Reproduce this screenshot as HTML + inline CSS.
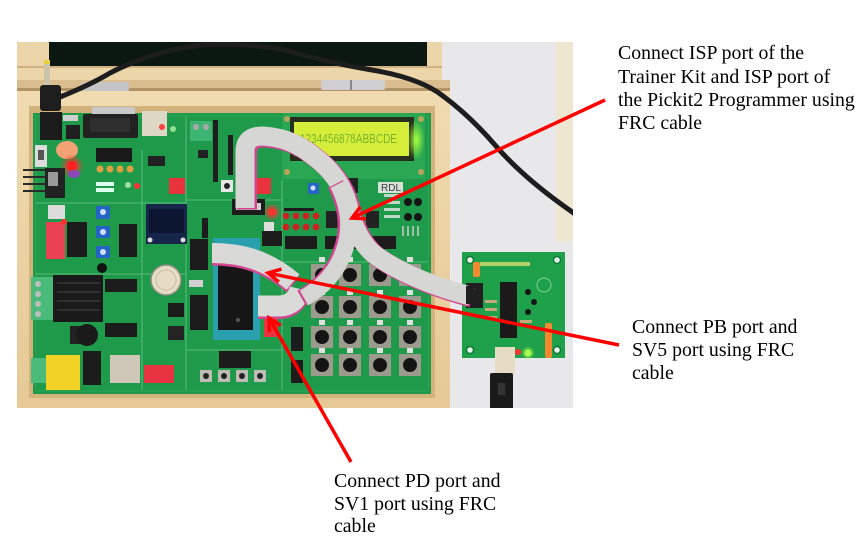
<!DOCTYPE html>
<html><head><meta charset="utf-8">
<style>
html,body{margin:0;padding:0;background:#fff;}
body{width:863px;height:552px;position:relative;overflow:hidden;font-family:"Liberation Serif","Times New Roman",serif;}
.t{position:absolute;font-size:19.8px;line-height:23.3px;color:#000;white-space:nowrap;}
svg{position:absolute;left:0;top:0;}
</style></head><body>
<svg width="863" height="552" viewBox="0 0 863 552">
<defs>
 <clipPath id="c"><rect x="17" y="42" width="556" height="366"/></clipPath>
 <radialGradient id="rg"><stop offset="0" stop-color="#ff2a2a"/><stop offset="0.5" stop-color="#ff3030" stop-opacity="0.6"/><stop offset="1" stop-color="#ff3030" stop-opacity="0"/></radialGradient>
 <radialGradient id="gg"><stop offset="0" stop-color="#a8ff40"/><stop offset="1" stop-color="#a8ff40" stop-opacity="0"/></radialGradient>
 <linearGradient id="wood" x1="0" y1="0" x2="0" y2="1"><stop offset="0" stop-color="#f0dbb0"/><stop offset="1" stop-color="#e6c996"/></linearGradient>
</defs>
<g clip-path="url(#c)">
 <rect x="17" y="42" width="556" height="366" fill="#e8e8eb"/>
 <rect x="556" y="42" width="17" height="200" fill="#efe6d2"/>
 <!-- lid -->
 <rect x="17" y="42" width="425" height="40" fill="#ecd6a9"/>
 <rect x="49" y="42" width="378" height="25" fill="#0b1811"/>
 <rect x="17" y="66" width="425" height="2" fill="#d2b283"/>
 <rect x="17" y="80" width="433" height="11" fill="#d9bd8e"/>
 <rect x="17" y="88" width="433" height="3" fill="#b39366"/>
 <rect x="81" y="82" width="48" height="9" rx="2" fill="#c4c4c6"/>
 <rect x="321" y="80" width="64" height="10" rx="2" fill="#cfcfd2"/>
 <rect x="350" y="80" width="2" height="10" fill="#888"/>
 <!-- box -->
 <rect x="17" y="91" width="433" height="317" fill="url(#wood)"/>
 <rect x="29" y="106" width="406" height="292" fill="#d3b27c"/>
 <!-- PCB -->
 <rect x="33" y="113" width="398" height="281" fill="#1f9a4b"/>
 <rect x="36" y="116" width="392" height="275" fill="none" stroke="#2aa556" stroke-width="1"/>
 <g stroke="#86d39c" stroke-width="0.8" opacity="0.75" fill="none">
  <path d="M36 203 H186"/><path d="M36 274 H186"/><path d="M186 350 H282"/>
  <path d="M142 150 V390"/><path d="M186 116 V390"/><path d="M282 180 V390"/>
  <path d="M282 262 H428"/><path d="M186 200 H282"/>
 </g>
 <!-- plug -->
 <rect x="44" y="62" width="6" height="24" fill="#cbc3aa"/>
 <rect x="44" y="60" width="6" height="4" fill="#e8d040"/>
 <rect x="40" y="85" width="21" height="26" rx="3" fill="#1e1e1e"/>
 <rect x="40" y="112" width="22" height="28" fill="#1b1b1b"/>
 <!-- left top area -->
 <rect x="63" y="115" width="15" height="6" fill="#cfcfcf"/>
 <rect x="66" y="125" width="14" height="14" fill="#202020"/>
 <rect x="35" y="145" width="12" height="22" fill="#dcdcdc"/>
 <rect x="38" y="150" width="6" height="10" fill="#555"/>
 <ellipse cx="67" cy="150" rx="11" ry="9" fill="#f2a274"/>
 <circle cx="72" cy="166" r="12" fill="url(#rg)"/>
 <circle cx="72" cy="166" r="5" fill="#ff2020"/>
 <ellipse cx="74" cy="174" rx="6" ry="4" fill="#8a48b8"/>
 <g stroke="#2a2a2a" stroke-width="2"><path d="M23 170 H46"/><path d="M23 177 H46"/><path d="M23 184 H46"/><path d="M23 191 H46"/></g>
 <rect x="45" y="168" width="20" height="30" fill="#222"/>
 <rect x="48" y="172" width="10" height="14" fill="#9a9a9a"/>
 <!-- DB9 & USB -->
 <rect x="92" y="107" width="43" height="10" fill="#c9c9c9"/>
 <rect x="83" y="114" width="55" height="24" rx="2" fill="#222"/>
 <rect x="90" y="118" width="40" height="14" fill="#2f2f2f"/>
 <rect x="142" y="111" width="25" height="25" fill="#ddd7c6"/>
 <rect x="96" y="148" width="36" height="14" fill="#1a1a1a"/>
 <g fill="#e0a040"><circle cx="100" cy="169" r="3.5"/><circle cx="110" cy="169" r="3.5"/><circle cx="120" cy="169" r="3.5"/><circle cx="130" cy="169" r="3.5"/></g>
 <rect x="148" y="156" width="17" height="10" fill="#222"/>
 <circle cx="162" cy="127" r="3" fill="#ff4040"/><circle cx="173" cy="129" r="3" fill="#8fe08f"/>
 <circle cx="128" cy="185" r="3" fill="#9ee09e"/><circle cx="137" cy="186" r="3" fill="#ff3030"/>
 <rect x="96" y="182" width="18" height="4" fill="#dfe"/><rect x="96" y="188" width="18" height="4" fill="#dfe"/>
 <rect x="190" y="121" width="22" height="20" fill="#3db572"/>
 <circle cx="196" cy="127" r="3" fill="#aaa"/><circle cx="206" cy="127" r="3" fill="#aaa"/>
 <rect x="213" y="120" width="5" height="62" fill="#1e1e1e"/>
 <rect x="228" y="135" width="5" height="40" fill="#1e1e1e"/>
 <rect x="198" y="150" width="10" height="8" fill="#222"/>
 <!-- red DIPs -->
 <rect x="169" y="178" width="16" height="16" fill="#e8333c"/>
 <rect x="257" y="178" width="14" height="16" fill="#e8333c"/>
 <rect x="46" y="222" width="19" height="37" fill="#ea4252"/>
 <rect x="144" y="365" width="30" height="18" fill="#e83340"/>
 <rect x="264" y="317" width="14" height="20" fill="#e83340"/>
 <!-- buttons / pots -->
 <rect x="221" y="180" width="12" height="12" fill="#e6e6e6"/><circle cx="227" cy="186" r="3" fill="#222"/>
 <rect x="48" y="205" width="17" height="14" fill="#dcdcdc"/>
 <circle cx="64" cy="222" r="3" fill="#ff3030"/>
 <g fill="#2563c4"><rect x="96" y="206" width="14" height="13"/><rect x="96" y="226" width="14" height="12"/><rect x="96" y="246" width="14" height="12"/><rect x="308" y="183" width="11" height="11"/></g>
 <g fill="#cfe0ff"><circle cx="103" cy="212" r="3"/><circle cx="103" cy="232" r="3"/><circle cx="103" cy="252" r="3"/><circle cx="313" cy="188" r="2.5"/></g>
 <circle cx="102" cy="268" r="5" fill="#111"/>
 <!-- OLED -->
 <rect x="146" y="204" width="41" height="40" fill="#16264a"/>
 <rect x="149" y="209" width="35" height="24" fill="#0d1630"/>
 <circle cx="150" cy="240" r="2.5" fill="#ddd"/><circle cx="183" cy="240" r="2.5" fill="#ddd"/>
 <!-- headers -->
 <g fill="#1c1c1c">
  <rect x="67" y="222" width="20" height="35"/><rect x="119" y="224" width="18" height="33"/>
  <rect x="190" y="239" width="18" height="31"/><rect x="190" y="295" width="18" height="35"/>
  <rect x="105" y="279" width="32" height="13"/><rect x="105" y="323" width="32" height="14"/>
  <rect x="83" y="351" width="18" height="34"/><rect x="219" y="351" width="32" height="17"/>
  <rect x="285" y="236" width="32" height="13"/><rect x="325" y="236" width="35" height="13"/>
  <rect x="371" y="236" width="25" height="13"/><rect x="291" y="327" width="12" height="24"/>
  <rect x="291" y="360" width="12" height="23"/><rect x="202" y="218" width="6" height="20"/>
  <rect x="284" y="208" width="30" height="3"/>
 </g>
 <!-- heatsink / terminals / relay -->
 <rect x="53" y="275" width="50" height="47" fill="#1a1a1a"/>
 <g stroke="#383838" stroke-width="1.5"><path d="M57 283 H100"/><path d="M57 292 H100"/><path d="M57 301 H100"/><path d="M57 310 H100"/></g>
 <rect x="31" y="277" width="22" height="43" fill="#4bbb7b"/>
 <g fill="#bdbdbd"><circle cx="38" cy="284" r="3"/><circle cx="38" cy="294" r="3"/><circle cx="38" cy="304" r="3"/><circle cx="38" cy="314" r="3"/></g>
 <rect x="70" y="326" width="12" height="18" fill="#222"/>
 <circle cx="87" cy="335" r="11" fill="#1a1a1a"/>
 <rect x="31" y="358" width="15" height="25" fill="#4bbb7b"/>
 <rect x="46" y="355" width="34" height="35" fill="#f2d224"/>
 <rect x="110" y="355" width="30" height="28" fill="#cfc8b8"/>
 <circle cx="166" cy="280" r="15" fill="#e6dcc4" stroke="#8b8b80" stroke-width="1.5"/>
 <circle cx="166" cy="280" r="10" fill="none" stroke="#c8bea6" stroke-width="1"/>
 <rect x="168" y="303" width="16" height="14" fill="#1c1c1c"/>
 <rect x="168" y="326" width="16" height="14" fill="#242424"/>
 <rect x="189" y="280" width="14" height="7" fill="#d0d0d0"/>
 <!-- ZIF -->
 <rect x="213" y="238" width="47" height="102" fill="#2aa0ae"/>
 <rect x="218" y="262" width="35" height="68" fill="#161616"/>
 <circle cx="238" cy="320" r="2" fill="#555"/>
 <!-- LCD module -->
 <rect x="282" y="113" width="143" height="66" fill="#2aa752"/>
 <rect x="290" y="117" width="124" height="44" fill="#26301c"/>
 <rect x="294" y="122" width="115" height="34" fill="#d6ee3a"/>
 <rect x="407" y="120" width="18" height="40" fill="url(#gg)"/>
 <text x="300" y="143" font-family="'Liberation Sans',sans-serif" font-size="13" fill="#7ab52c" textLength="97" lengthAdjust="spacingAndGlyphs">1234456878ABBCDE</text>
 <g fill="#b9a45e"><circle cx="287" cy="119" r="3"/><circle cx="421" cy="119" r="3"/><circle cx="287" cy="172" r="3"/><circle cx="421" cy="172" r="3"/></g>
 <rect x="330" y="178" width="28" height="15" fill="#222"/>
 <rect x="378" y="182" width="25" height="11" fill="#d9e2d9"/>
 <text x="381" y="191" font-family="'Liberation Sans',sans-serif" font-size="10" fill="#3a3a3a">RDL</text>
 <!-- LEDs, 7seg -->
 <circle cx="272" cy="212" r="9" fill="url(#rg)"/><circle cx="272" cy="212" r="3.5" fill="#ff3030"/>
 <rect x="264" y="222" width="10" height="9" fill="#ddd"/>
 <g fill="#cf2020"><circle cx="286" cy="216" r="3.3"/><circle cx="296" cy="216" r="3.3"/><circle cx="306" cy="216" r="3.3"/><circle cx="316" cy="216" r="3.3"/>
 <circle cx="286" cy="227" r="3.3"/><circle cx="296" cy="227" r="3.3"/><circle cx="306" cy="227" r="3.3"/><circle cx="316" cy="227" r="3.3"/></g>
 <rect x="326" y="211" width="15" height="17" fill="#222"/>
 <rect x="366" y="211" width="13" height="17" fill="#222"/>
 <g fill="#151515"><circle cx="408" cy="202" r="4"/><circle cx="418" cy="202" r="4"/><circle cx="408" cy="217" r="4"/><circle cx="418" cy="217" r="4"/></g>
 <g stroke="#cfcfcf" stroke-width="1.5"><path d="M403 226 V236"/><path d="M408 226 V236"/><path d="M413 226 V236"/><path d="M418 226 V236"/></g>
 <g fill="#e8e8e8" opacity="0.8"><rect x="384" y="194" width="16" height="3"/><rect x="384" y="201" width="16" height="3"/><rect x="384" y="208" width="16" height="3"/><rect x="384" y="215" width="16" height="3"/></g>
 <!-- keypad -->
 <g fill="#9c9a8c">
  <rect x="311" y="264" width="22" height="22"/><rect x="339" y="264" width="22" height="22"/><rect x="369" y="264" width="22" height="22"/><rect x="399" y="264" width="22" height="22"/>
  <rect x="311" y="296" width="22" height="22"/><rect x="339" y="296" width="22" height="22"/><rect x="369" y="296" width="22" height="22"/><rect x="399" y="296" width="22" height="22"/>
  <rect x="311" y="326" width="22" height="22"/><rect x="339" y="326" width="22" height="22"/><rect x="369" y="326" width="22" height="22"/><rect x="399" y="326" width="22" height="22"/>
  <rect x="311" y="354" width="22" height="22"/><rect x="339" y="354" width="22" height="22"/><rect x="369" y="354" width="22" height="22"/><rect x="399" y="354" width="22" height="22"/>
 </g>
 <g fill="#141414">
  <circle cx="322" cy="275" r="7"/><circle cx="350" cy="275" r="7"/><circle cx="380" cy="275" r="7"/><circle cx="410" cy="275" r="7"/>
  <circle cx="322" cy="307" r="7"/><circle cx="350" cy="307" r="7"/><circle cx="380" cy="307" r="7"/><circle cx="410" cy="307" r="7"/>
  <circle cx="322" cy="337" r="7"/><circle cx="350" cy="337" r="7"/><circle cx="380" cy="337" r="7"/><circle cx="410" cy="337" r="7"/>
  <circle cx="322" cy="365" r="7"/><circle cx="350" cy="365" r="7"/><circle cx="380" cy="365" r="7"/><circle cx="410" cy="365" r="7"/>
 </g>
 <g fill="#e0e0e0"><rect x="319" y="257" width="6" height="5"/><rect x="347" y="257" width="6" height="5"/><rect x="377" y="257" width="6" height="5"/><rect x="407" y="257" width="6" height="5"/>
 <rect x="319" y="290" width="6" height="5"/><rect x="347" y="290" width="6" height="5"/><rect x="377" y="290" width="6" height="5"/><rect x="407" y="290" width="6" height="5"/>
 <rect x="319" y="320" width="6" height="5"/><rect x="347" y="320" width="6" height="5"/><rect x="377" y="320" width="6" height="5"/><rect x="407" y="320" width="6" height="5"/>
 <rect x="319" y="348" width="6" height="5"/><rect x="347" y="348" width="6" height="5"/><rect x="377" y="348" width="6" height="5"/><rect x="407" y="348" width="6" height="5"/></g>
 <!-- bottom push buttons -->
 <g fill="#bdbdb5"><rect x="200" y="370" width="12" height="12"/><rect x="218" y="370" width="12" height="12"/><rect x="236" y="370" width="12" height="12"/><rect x="254" y="370" width="12" height="12"/></g>
 <g fill="#222"><circle cx="206" cy="376" r="3"/><circle cx="224" cy="376" r="3"/><circle cx="242" cy="376" r="3"/><circle cx="260" cy="376" r="3"/></g>
 <!-- connectors under cables -->
 <rect x="232" y="199" width="33" height="16" fill="#1c1c1c"/>
 <rect x="236" y="203" width="25" height="7" fill="#cfcfcf"/>
 <rect x="262" y="231" width="20" height="15" fill="#1c1c1c"/>
 <!-- black cable -->
 <path d="M60 97 Q90 85 110 73 Q150 52 200 45 Q260 42 300 54 Q335 64 372 70 Q420 78 443 96 Q470 116 495 145 Q525 180 578 216" fill="none" stroke="#1d1d1d" stroke-width="5" stroke-linecap="round"/>
 <!-- right programmer board -->
 <rect x="462" y="252" width="103" height="106" fill="#1fa04a"/>
 <g fill="#e8f4ea" stroke="#0d7a35" stroke-width="1.5"><circle cx="470" cy="260" r="3.5"/><circle cx="557" cy="260" r="3.5"/><circle cx="470" cy="350" r="3.5"/><circle cx="557" cy="350" r="3.5"/></g>
 <circle cx="544" cy="285" r="7" fill="none" stroke="#7fd49a" stroke-width="1"/>
 <rect x="500" y="282" width="17" height="56" fill="#1a1a1a"/>
 <rect x="466" y="283" width="17" height="25" fill="#202020"/>
 <rect x="473" y="262" width="7" height="15" rx="2" fill="#f28a30"/>
 <rect x="545" y="323" width="7" height="35" rx="2" fill="#f28a30"/>
 <g fill="#161616"><circle cx="528" cy="292" r="3"/><circle cx="534" cy="302" r="3"/><circle cx="528" cy="312" r="3"/></g>
 <g fill="#c7a878"><rect x="485" y="300" width="12" height="3"/><rect x="485" y="308" width="12" height="3"/><rect x="485" y="316" width="12" height="3"/><rect x="520" y="320" width="12" height="3"/></g>
 <rect x="480" y="262" width="50" height="4" fill="#f0e070" opacity="0.7"/>
 <circle cx="518" cy="352" r="3" fill="#ff3030"/>
 <circle cx="528" cy="353" r="7" fill="url(#gg)"/><circle cx="528" cy="353" r="3.5" fill="#a6ff50"/>
 <rect x="495" y="347" width="20" height="27" fill="#e6dcc6"/>
 <rect x="490" y="373" width="23" height="40" rx="2" fill="#1a1a1a"/>
 <rect x="498" y="383" width="7" height="12" fill="#333"/>
 <!-- ribbon cables -->
 <g fill="none" stroke-linecap="butt">
  <path d="M245 208 L245 150 Q246 136 262 136 Q290 137 312 155 Q340 175 348 205 Q356 240 375 255 Q410 280 470 296" stroke="#d2468f" stroke-width="20" transform="translate(2,1.5)"/>
  <path d="M245 208 L245 150 Q246 136 262 136 Q290 137 312 155 Q340 175 348 205 Q356 240 375 255 Q410 280 470 296" stroke="#d6d6d4" stroke-width="19"/>
  <path d="M212 253 C240 253 266 259 293 282" stroke="#d2468f" stroke-width="20" transform="translate(0,2.5)"/>
  <path d="M212 253 C240 253 266 259 293 282" stroke="#d8d8d6" stroke-width="20"/>
  <path d="M300 289 Q296 305 280 306 L258 306" stroke="#d2468f" stroke-width="21" transform="translate(0,2.5)"/>
  <path d="M300 289 Q296 305 280 306 L258 306" stroke="#dadad8" stroke-width="21"/>
  <path d="M338 184 Q354 215 346 245 Q336 280 304 298" stroke="#d2468f" stroke-width="17" transform="translate(-2.5,0)"/>
  <path d="M338 184 Q354 215 346 245 Q336 280 304 298" stroke="#d5d5d3" stroke-width="17"/>
 </g>
 <rect x="466" y="286" width="8" height="18" fill="#202020"/>
</g>
<!-- red arrows -->
<g stroke="#ff0000" stroke-width="3.5" fill="none" stroke-linejoin="miter">
 <path d="M605 100 L353 217.5"/>
 <polyline points="366,218.7 352,218 360.4,206.8"/>
 <path d="M619 345 L269.5 273.3"/>
 <polyline points="278.8,281.9 268,273 281.4,269.1"/>
 <path d="M351 462 L269.6 319"/>
 <polyline points="269.4,332 269,318 280.8,325.5"/>
</g>
</svg>
<div class="t" style="left:618px;top:42.4px;">Connect ISP port of the<br>Trainer Kit and ISP port of<br>the Pickit2 Programmer using<br>FRC cable</div>
<div class="t" style="left:632px;top:316px;line-height:23px;">Connect PB port and<br>SV5 port using FRC<br>cable</div>
<div class="t" style="left:334px;top:470px;line-height:22.6px;">Connect PD port and<br>SV1 port using FRC<br>cable</div>
</body></html>
